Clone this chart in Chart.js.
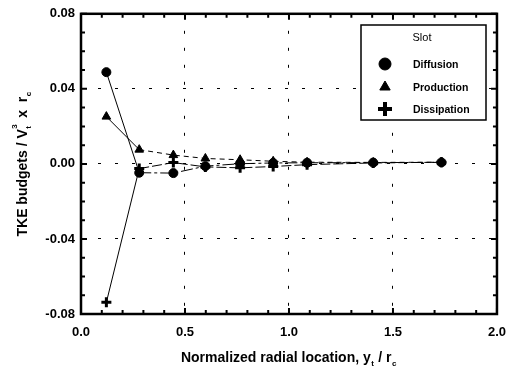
<!DOCTYPE html>
<html>
<head>
<meta charset="utf-8">
<script src="https://cdn.jsdelivr.net/npm/chart.js@4.4.1/dist/chart.umd.min.js"></script>
<style>
  body { margin: 0; background: #fff; }
  #wrap { width: 517px; height: 372px; }
</style>
</head>
<body>
<div id="wrap"><canvas id="tkeChart" width="517" height="372"></canvas></div>
<script>
// radial locations (y_t / r_c)
const radialPos = [0.122, 0.28, 0.444, 0.598, 0.765, 0.924, 1.087, 1.405, 1.733];
const diffusion = [0.0489, -0.0047, -0.0049, -0.0012, 0.0001, 0.0005, 0.0006, 0.0007, 0.0008];
const production = [0.0252, 0.0076, 0.0047, 0.0029, 0.0022, 0.0014, 0.0009, 0.0008, 0.0009];
const dissipation = [-0.0738, -0.0025, 0.0007, -0.0016, -0.0021, -0.0014, -0.0004, 0.0005, 0.0009];
const xTicks = [0.0, 0.5, 1.0, 1.5, 2.0];
const yTicks = [-0.08, -0.04, 0.00, 0.04, 0.08];

const FONT = '"Liberation Sans", Arial, sans-serif';

function toPoints(vals) {
    return vals.map((v, i) => ({ x: radialPos[i], y: v }));
}

// first segment is a thin solid line, the rest are dashed
function segDash(dash) {
    return { borderDash: ctx => ctx.p0DataIndex === 0 ? [] : dash };
}

// frame, inward ticks, axis titles and the boxed legend
const decorPlugin = {
    id: 'decor',
    afterDraw(chart) {
        const ctx = chart.ctx;
        const a = chart.chartArea;
        const xs = chart.scales.x, ys = chart.scales.y;
        ctx.save();
        ctx.strokeStyle = '#000';
        ctx.fillStyle = '#000';

        // minor/major tick marks on all four sides
        ctx.lineWidth = 2;
        for (let i = 0; i <= 20; i++) {
            const px = xs.getPixelForValue(i / 10);
            const len = i % 5 === 0 ? 6 : 4;
            ctx.beginPath();
            ctx.moveTo(px, a.bottom); ctx.lineTo(px, a.bottom - len);
            ctx.moveTo(px, a.top); ctx.lineTo(px, a.top + len);
            ctx.stroke();
        }
        for (let i = -8; i <= 8; i++) {
            const py = ys.getPixelForValue(i / 100);
            const len = i % 4 === 0 ? 6 : 4;
            ctx.beginPath();
            ctx.moveTo(a.left, py); ctx.lineTo(a.left + len, py);
            ctx.moveTo(a.right, py); ctx.lineTo(a.right - len, py);
            ctx.stroke();
        }

        // frame
        ctx.lineWidth = 2.5;
        ctx.strokeRect(a.left, a.top, a.right - a.left, a.bottom - a.top);

        // x axis title with subscripts
        drawRich(ctx, [
            ['Normalized radial location, y', 0],
            ['t', 1],
            [' / r', 0],
            ['c', 1]
        ], (a.left + a.right) / 2, 357);

        // y axis title, rotated
        ctx.save();
        ctx.translate(22, (a.top + a.bottom) / 2);
        ctx.rotate(-Math.PI / 2);
        drawRich(ctx, [
            ['TKE budgets / V', 0],
            ['t', 1, '3'],
            ['  x  r', 0],
            ['c', 1]
        ], 0, 0);
        ctx.restore();

        // legend box
        const bx = 361, by = 25, bw = 125, bh = 95;
        ctx.fillStyle = '#fff';
        ctx.fillRect(bx, by, bw, bh);
        ctx.lineWidth = 1.5;
        ctx.strokeRect(bx, by, bw, bh);
        ctx.fillStyle = '#000';
        ctx.font = '11px ' + FONT;
        ctx.textAlign = 'center';
        ctx.textBaseline = 'middle';
        ctx.fillText('Slot', 422, 38);
        const rows = [64, 87, 109];
        chart.data.datasets.forEach((ds, i) => {
            const isCross = ds.pointStyle === 'cross';
            ctx.lineWidth = isCross ? 4 : 1;
            ctx.strokeStyle = '#000';
            ctx.fillStyle = '#000';
            Chart.helpers.drawPoint(ctx, {
                pointStyle: ds.pointStyle,
                radius: isCross ? 7 : 6,
                borderWidth: ctx.lineWidth,
                rotation: 0
            }, 385, rows[i]);
            ctx.font = 'bold 10.5px ' + FONT;
            ctx.textAlign = 'left';
            ctx.fillText(ds.label, 413, rows[i] + 1);
        });
        ctx.restore();
    }
};

// draws text pieces; kind 1 = subscript, optional superscript on top
function drawRich(ctx, parts, cx, cy) {
    const big = 'bold 14px ' + FONT, small = 'bold 8px ' + FONT;
    let total = 0;
    parts.forEach(p => {
        ctx.font = p[1] ? small : big;
        total += ctx.measureText(p[0]).width + (p[1] ? 1 : 0);
    });
    let x = cx - total / 2;
    ctx.textAlign = 'left';
    ctx.textBaseline = 'alphabetic';
    ctx.fillStyle = '#000';
    parts.forEach(p => {
        ctx.font = p[1] ? small : big;
        if (p[1]) {
            ctx.fillText(p[0], x + 0.5, cy + 9);
            if (p[2]) ctx.fillText(p[2], x + 0.5, cy - 5);
            x += ctx.measureText(p[0]).width + 1;
        } else {
            ctx.fillText(p[0], x, cy + 5);
            x += ctx.measureText(p[0]).width;
        }
    });
}

new Chart(document.getElementById('tkeChart'), {
    type: 'scatter',
    data: {
        datasets: [
            {
                label: 'Diffusion',
                data: toPoints(diffusion),
                showLine: true,
                borderColor: '#000',
                borderWidth: 1,
                pointStyle: 'circle',
                pointRadius: 4.5,
                pointBorderWidth: 1,
                pointBackgroundColor: '#000',
                segment: segDash([12, 3, 3, 3])
            },
            {
                label: 'Production',
                data: toPoints(production),
                showLine: true,
                borderColor: '#000',
                borderWidth: 1,
                pointStyle: 'triangle',
                pointRadius: 5,
                pointBorderWidth: 1,
                pointBackgroundColor: '#000',
                segment: segDash([5, 4])
            },
            {
                label: 'Dissipation',
                data: toPoints(dissipation),
                showLine: true,
                borderColor: '#000',
                borderWidth: 1,
                pointStyle: 'cross',
                pointRadius: 5,
                pointBorderWidth: 3,
                pointBackgroundColor: '#000',
                segment: segDash([10, 3])
            }
        ]
    },
    options: {
        responsive: false,
        animation: false,
        layout: { padding: { top: 10, right: 16, left: 0, bottom: 0 } },
        plugins: {
            legend: { display: false },
            tooltip: { enabled: false }
        },
        scales: {
            x: {
                type: 'linear',
                min: 0, max: 2,
                afterBuildTicks: s => { s.ticks = xTicks.map(v => ({ value: v })); },
                afterFit: s => { s.height = 58; },
                border: { display: false, dash: [3, 14] },
                grid: {
                    drawTicks: false,
                    color: c => (c.tick && (c.tick.value === 0 || c.tick.value === 2)) ? 'rgba(0,0,0,0)' : '#000',
                    lineWidth: 1
                },
                ticks: {
                    padding: 11,
                    color: '#000',
                    font: { family: FONT, size: 13, weight: 'bold' },
                    callback: v => v.toFixed(1)
                }
            },
            y: {
                type: 'linear',
                min: -0.08, max: 0.08,
                afterBuildTicks: s => { s.ticks = yTicks.map(v => ({ value: v })); },
                afterFit: s => { s.width = 81; },
                border: { display: false, dash: [3, 14] },
                grid: {
                    drawTicks: false,
                    color: c => (c.tick && Math.abs(Math.abs(c.tick.value) - 0.08) < 1e-9) ? 'rgba(0,0,0,0)' : '#000',
                    lineWidth: 1
                },
                ticks: {
                    padding: 6,
                    color: '#000',
                    font: { family: FONT, size: 13, weight: 'bold' },
                    callback: v => v.toFixed(2)
                }
            }
        }
    },
    plugins: [decorPlugin]
});
</script>
</body>
</html>
